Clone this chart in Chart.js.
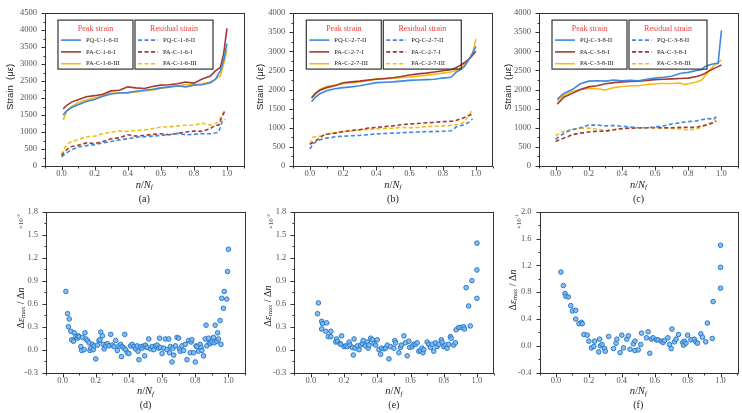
<!DOCTYPE html>
<html>
<head>
<meta charset="utf-8">
<script src="https://cdn.jsdelivr.net/npm/chart.js@4.4.1/dist/chart.umd.min.js"></script>
<style>
  body { margin: 0; background: #fff; }
  #wrap { position: relative; width: 742px; height: 413px; }
  #wrap canvas { position: absolute; left: 0; top: 0; }
</style>
</head>
<body>
<div id="wrap">
  <canvas id="ca" width="742" height="413"></canvas>
  <canvas id="cb" width="742" height="413"></canvas>
  <canvas id="cc" width="742" height="413"></canvas>
  <canvas id="cd" width="742" height="413"></canvas>
  <canvas id="ce" width="742" height="413"></canvas>
  <canvas id="cf" width="742" height="413"></canvas>
</div>
<script>
// tick labels
const xTicks = [0, 0.2, 0.4, 0.6, 0.8, 1.0];
const strainTicksA = [0, 500, 1000, 1500, 2000, 2500, 3000, 3500, 4000, 4500];
const strainTicksBC = [0, 500, 1000, 1500, 2000, 2500, 3000, 3500, 4000];
const rateTicksDE = [-0.3, 0, 0.3, 0.6, 0.9, 1.2, 1.5, 1.8];
const rateTicksF = [-0.4, 0, 0.4, 0.8, 1.2, 1.6, 2.0];

// (a) specimen group 1-6
const namesA = ['PQ-C-1-6-II', 'PA-C-1-6-I', 'PA-C-1-6-III'];
const peakXA = [0.01,0.03,0.06,0.1,0.15,0.2,0.25,0.3,0.35,0.4,0.45,0.5,0.55,0.6,0.65,0.7,0.75,0.8,0.85,0.9,0.93,0.96,0.98,1.0];
const peakPQA = [1500,1620,1720,1800,1900,1960,2050,2120,2150,2160,2200,2230,2260,2300,2330,2360,2330,2380,2390,2450,2550,2800,3100,3600];
const peakPA1A = [1680,1780,1880,1950,2040,2070,2110,2210,2230,2330,2300,2280,2340,2380,2390,2420,2470,2440,2560,2650,2800,2900,3300,4050];
const peakPA3A = [1350,1600,1750,1860,1940,2000,2080,2140,2150,2150,2180,2210,2240,2280,2320,2350,2400,2400,2420,2480,2550,2650,3000,3400];
const resXA = [0,0.02,0.05,0.1,0.15,0.2,0.25,0.3,0.35,0.4,0.45,0.5,0.55,0.6,0.65,0.7,0.75,0.8,0.85,0.9,0.93,0.95,0.97,0.99];
const resPQA = [270,350,450,560,600,630,680,720,770,800,850,860,880,900,920,960,920,930,950,950,970,1000,1300,1370];
const resPA1A = [300,430,560,610,680,660,720,800,830,920,880,900,930,950,920,960,1000,1030,1020,1100,1200,1200,1450,1650];
const resPA3A = [330,550,700,780,860,880,950,1000,1030,1020,1050,1060,1100,1150,1150,1180,1200,1200,1260,1210,1250,1300,1500,1650];

// (b) specimen group 2-7
const namesB = ['PQ-C-2-7-II', 'PA-C-2-7-I', 'PA-C-2-7-III'];
const peakXB = [0.01,0.03,0.06,0.1,0.15,0.2,0.25,0.3,0.35,0.4,0.45,0.5,0.55,0.6,0.65,0.7,0.75,0.8,0.85,0.88,0.9,0.93,0.96,0.98,1.0];
const peakPQB = [1680,1790,1890,1970,2020,2050,2070,2100,2140,2180,2190,2200,2220,2240,2250,2260,2270,2300,2320,2450,2500,2600,2800,2950,3130];
const peakPA1B = [1780,1880,1980,2050,2100,2180,2200,2220,2250,2270,2290,2310,2340,2380,2410,2430,2460,2490,2520,2570,2620,2700,2800,2900,3000];
const peakPA3B = [1800,1900,2000,2080,2120,2150,2170,2200,2230,2280,2280,2300,2310,2330,2350,2370,2400,2430,2460,2500,2550,2650,2800,2950,3320];
const resXB = [0,0.02,0.05,0.08,0.1,0.15,0.2,0.25,0.3,0.35,0.4,0.45,0.5,0.55,0.6,0.65,0.7,0.75,0.8,0.85,0.88,0.9,0.93,0.96,0.98];
const resPQB = [440,580,670,710,730,760,780,790,800,820,840,850,860,870,880,890,900,900,910,920,1020,1050,1080,1150,1230];
const resPA1B = [570,620,700,800,830,860,900,930,950,990,1010,1030,1050,1080,1100,1110,1130,1140,1160,1170,1190,1220,1270,1330,1360];
const resPA3B = [580,760,770,800,830,870,900,920,940,960,970,980,990,1010,1000,1010,1030,1040,1050,1060,1080,1100,1150,1350,1470];

// (c) specimen group 3-8
const namesC = ['PQ-C-3-8-II', 'PA-C-3-8-I', 'PA-C-3-8-III'];
const peakXC = [0.01,0.05,0.1,0.15,0.2,0.25,0.3,0.35,0.4,0.45,0.5,0.55,0.6,0.65,0.7,0.75,0.78,0.8,0.85,0.88,0.9,0.93,0.96,0.98,1.0];
const peakPQC = [1750,1900,2000,2150,2220,2230,2220,2250,2230,2240,2230,2270,2300,2320,2350,2420,2440,2450,2500,2520,2600,2650,2680,2680,3550];
const peakPA1C = [1620,1800,1900,2000,2070,2100,2150,2180,2200,2210,2220,2240,2260,2270,2280,2290,2295,2300,2340,2380,2420,2500,2560,2600,2640];
const peakPA3C = [1700,1850,1950,2000,2020,2020,1990,2050,2080,2100,2100,2130,2150,2160,2160,2170,2130,2150,2200,2250,2350,2500,2650,2700,2780];
const resXC = [0,0.03,0.07,0.1,0.15,0.2,0.25,0.3,0.35,0.4,0.45,0.5,0.55,0.6,0.65,0.7,0.75,0.8,0.85,0.88,0.92,0.95,0.97];
const resPQC = [700,800,900,950,1000,1070,1070,1050,1060,1040,1020,1000,1000,1020,1050,1100,1130,1160,1180,1210,1240,1230,1290];
const resPA1C = [640,700,760,820,860,890,910,910,950,980,990,1000,1000,1000,1000,1000,1010,1010,1010,1050,1080,1130,1180];
const resPA3C = [790,880,930,960,990,990,960,930,940,970,1000,990,1000,1000,990,980,970,940,970,1020,1100,1150,1330];

// (d)-(f) strain rate points [n/Nf, value]
const rateD = [[0.02,0.76],[0.03,0.47],[0.035,0.30],[0.04,0.40],[0.05,0.24],[0.055,0.13],[0.065,0.11],[0.07,0.22],[0.08,0.17],[0.09,0.15],
  [0.095,0.18],[0.10,0.17],[0.11,0.04],[0.115,-0.01],[0.12,0.16],[0.13,0.00],[0.135,0.22],[0.14,0.14],[0.15,0.12],[0.16,0.09],
  [0.165,-0.01],[0.17,0.02],[0.18,0.07],[0.185,0.00],[0.19,0.05],[0.20,-0.12],[0.21,0.06],[0.22,0.12],[0.225,0.13],[0.23,0.23],
  [0.24,0.18],[0.245,0.07],[0.25,0.01],[0.26,0.05],[0.27,0.08],[0.28,0.05],[0.29,0.20],[0.30,0.06],[0.31,0.04],[0.32,0.12],
  [0.33,-0.01],[0.34,0.05],[0.35,0.07],[0.355,-0.09],[0.36,0.04],[0.37,0.02],[0.375,0.20],[0.38,0.00],[0.39,-0.04],[0.40,-0.05],
  [0.41,0.05],[0.42,0.07],[0.43,0.04],[0.44,0.01],[0.45,0.05],[0.455,-0.02],[0.46,-0.13],[0.47,0.04],[0.48,0.02],[0.49,0.05],
  [0.495,-0.08],[0.50,0.06],[0.51,0.03],[0.52,0.14],[0.53,0.01],[0.54,0.04],[0.55,0.00],[0.56,0.05],[0.57,0.06],[0.58,0.02],
  [0.585,0.15],[0.59,0.03],[0.60,-0.05],[0.61,0.02],[0.62,0.14],[0.63,0.00],[0.64,0.14],[0.645,-0.04],[0.65,0.04],[0.66,-0.16],
  [0.665,0.02],[0.67,-0.07],[0.68,0.05],[0.69,0.16],[0.70,0.15],[0.705,0.01],[0.71,-0.02],[0.72,0.05],[0.73,-0.01],[0.74,0.07],
  [0.75,-0.13],[0.76,0.12],[0.77,-0.04],[0.775,0.10],[0.78,0.13],[0.79,-0.04],[0.80,-0.16],[0.805,0.05],[0.81,0.04],[0.82,-0.02],
  [0.83,0.07],[0.835,0.03],[0.84,-0.01],[0.85,-0.08],[0.86,0.14],[0.865,0.32],[0.87,0.05],[0.88,0.15],[0.885,0.09],[0.89,0.08],
  [0.90,0.10],[0.91,0.16],[0.915,0.09],[0.92,0.32],[0.93,0.11],[0.935,0.22],[0.94,0.14],[0.95,0.38],[0.955,0.07],[0.96,0.67],
  [0.97,0.54],[0.975,0.76],[0.99,0.66],[0.995,1.02],[1.0,1.31]];
const rateE = [[0.04,0.47],[0.045,0.61],[0.065,0.37],[0.065,0.27],[0.07,0.34],[0.09,0.24],[0.095,0.35],[0.105,0.17],[0.12,0.17],[0.12,0.24],
  [0.15,0.10],[0.155,0.14],[0.16,0.11],[0.175,0.08],[0.18,0.07],[0.185,0.18],[0.20,0.04],[0.21,0.05],[0.22,0.04],[0.23,0.10],
  [0.235,0.06],[0.25,0.03],[0.255,-0.07],[0.26,0.14],[0.265,0.02],[0.28,0.05],[0.29,0.00],[0.30,0.06],[0.31,0.08],[0.315,0.12],
  [0.33,0.05],[0.34,0.10],[0.345,0.02],[0.35,0.06],[0.36,0.15],[0.37,0.13],[0.38,0.08],[0.39,0.06],[0.40,0.13],[0.41,0.00],
  [0.42,-0.06],[0.425,0.02],[0.44,0.01],[0.45,0.02],[0.46,0.06],[0.47,-0.12],[0.48,0.04],[0.50,0.02],[0.505,0.12],[0.51,0.09],
  [0.53,-0.04],[0.54,0.03],[0.545,0.06],[0.56,0.18],[0.57,0.09],[0.58,-0.08],[0.59,0.11],[0.595,0.03],[0.61,0.04],[0.62,0.07],
  [0.63,0.07],[0.64,0.09],[0.65,-0.02],[0.66,-0.01],[0.67,0.02],[0.675,-0.04],[0.68,0.00],[0.70,0.10],[0.71,0.07],[0.72,0.03],
  [0.73,0.07],[0.74,-0.02],[0.75,0.09],[0.76,0.04],[0.77,0.07],[0.785,0.13],[0.79,0.10],[0.80,0.04],[0.81,0.06],[0.82,0.02],
  [0.83,0.07],[0.84,0.17],[0.845,0.15],[0.86,0.06],[0.87,0.09],[0.875,0.26],[0.89,0.29],[0.905,0.29],[0.92,0.30],[0.925,0.27],
  [0.935,0.81],[0.95,0.57],[0.96,0.31],[0.97,0.90],[1.0,0.67],[1.0,1.04],[1.0,1.39]];
const rateF = [[0.03,1.10],[0.045,0.90],[0.055,0.78],[0.06,0.74],[0.075,0.73],[0.09,0.60],[0.10,0.52],[0.12,0.53],[0.12,0.40],[0.14,0.33],
  [0.155,0.35],[0.16,0.33],[0.17,0.17],[0.19,0.16],[0.20,0.07],[0.215,-0.03],[0.23,-0.01],[0.235,0.07],[0.26,-0.09],[0.265,0.10],
  [0.27,0.00],[0.28,0.02],[0.295,-0.04],[0.30,-0.08],[0.32,0.14],[0.35,-0.04],[0.365,0.04],[0.37,0.10],[0.39,-0.10],[0.40,0.16],
  [0.41,-0.03],[0.43,0.10],[0.44,0.15],[0.45,-0.05],[0.47,0.03],[0.48,0.07],[0.48,-0.07],[0.50,-0.06],[0.515,0.02],[0.52,0.19],
  [0.55,0.12],[0.56,0.21],[0.57,-0.11],[0.58,0.10],[0.59,0.12],[0.61,0.09],[0.62,0.09],[0.64,0.07],[0.65,0.05],[0.66,0.08],
  [0.68,0.12],[0.69,0.02],[0.70,-0.04],[0.705,0.25],[0.72,0.06],[0.73,0.10],[0.745,0.17],[0.77,0.05],[0.775,0.01],[0.78,0.07],
  [0.79,0.04],[0.80,0.16],[0.82,0.09],[0.84,0.10],[0.85,0.06],[0.86,0.04],[0.88,0.18],[0.89,0.13],[0.91,0.06],[0.92,0.34],
  [0.95,0.11],[0.955,0.66],[1.0,0.86],[1.0,1.17],[1.0,1.50]];

const SERIF = '"Liberation Serif", "Times New Roman", serif';
const SANS = '"Liberation Sans", Arial, sans-serif';
const BLUE = '#3f87e0', BROWN = '#a23a33', GOLD = '#f7bb14';
const AXIS = '#333', TICK = '#555', RED = '#ee3b3b';

function pts(xs, ys) {
  return xs.map((x, i) => ({ x: x, y: ys[i] }));
}

function lineSet(label, xs, ys, color, dashed) {
  return {
    label: label, data: pts(xs, ys), borderColor: color, backgroundColor: color,
    borderWidth: 1.6, borderDash: dashed ? [4, 2.5] : [], pointRadius: 0, tension: 0, fill: false
  };
}

// draw a row of text pieces centred on (cx, cy): [text, font, dy]
function drawParts(ctx, parts, cx, cy) {
  let w = 0;
  parts.forEach(p => { ctx.font = p[1]; w += ctx.measureText(p[0]).width; });
  let x = cx - w / 2;
  ctx.textAlign = 'left';
  ctx.textBaseline = 'middle';
  parts.forEach(p => {
    ctx.font = p[1];
    ctx.fillText(p[0], x, cy + p[2]);
    x += ctx.measureText(p[0]).width;
  });
}

function drawLegend(ctx, a, ds) {
  const top = a.top + 7, h = 49;
  const boxes = [
    { x: a.left + 13, w: 75, title: 'Peak strain', items: ds.slice(0, 3) },
    { x: a.left + 90, w: 78, title: 'Residual strain', items: ds.slice(3) }
  ];
  boxes.forEach(b => {
    ctx.setLineDash([]);
    ctx.strokeStyle = AXIS;
    ctx.lineWidth = 1.2;
    ctx.strokeRect(b.x, top, b.w, h);
    ctx.fillStyle = RED;
    ctx.font = '8px ' + SERIF;
    ctx.textAlign = 'center';
    ctx.textBaseline = 'middle';
    ctx.fillText(b.title, b.x + b.w / 2, top + 9);
    b.items.forEach((d, i) => {
      const y = top + 20 + i * 11.8;
      ctx.strokeStyle = d.borderColor;
      ctx.lineWidth = 1.6;
      ctx.setLineDash(d.borderDash);
      ctx.beginPath();
      ctx.moveTo(b.x + 3, y);
      ctx.lineTo(b.x + 23, y);
      ctx.stroke();
      ctx.setLineDash([]);
      ctx.fillStyle = '#222';
      ctx.font = '6.5px ' + SERIF;
      ctx.textAlign = 'left';
      ctx.fillText(d.label, b.x + 28, y);
    });
  });
}

// frame, minor ticks, axis titles, caption, legend
function makeDeco(cfg) {
  return {
    id: 'deco',
    afterDatasetsDraw(chart) {
      const ctx = chart.ctx, a = chart.chartArea;
      const sx = chart.scales.x, sy = chart.scales.y;
      ctx.save();
      ctx.strokeStyle = AXIS;
      ctx.lineWidth = 1;
      ctx.strokeRect(Math.round(a.left) + 0.5, Math.round(a.top) + 0.5,
        Math.round(a.right - a.left), Math.round(a.bottom - a.top));
      const bottom = Math.round(a.bottom) + 0.5, left = Math.round(a.left) + 0.5;
      ctx.beginPath();
      for (let i = -1; i <= 11; i++) {
        const px = Math.round(sx.getPixelForValue(i / 10)) + 0.5;
        ctx.moveTo(px, bottom);
        ctx.lineTo(px, bottom + (i % 2 === 0 ? 4 : 2));
      }
      const n = Math.round((sy.max - sy.min) / cfg.yMinor);
      for (let i = 0; i <= n; i++) {
        const py = Math.round(sy.getPixelForValue(sy.min + i * cfg.yMinor)) + 0.5;
        ctx.moveTo(left, py);
        ctx.lineTo(left - (i % 2 === 0 ? 4 : 2), py);
      }
      ctx.stroke();

      const cx = (a.left + a.right) / 2;
      ctx.fillStyle = '#222';
      drawParts(ctx, [['n', 'italic 10.5px ' + SERIF, 0], ['/', '10.5px ' + SERIF, 0],
        ['N', 'italic 10.5px ' + SERIF, 0], ['f', 'italic 7px ' + SERIF, 2.5]], cx, a.bottom + 19);
      drawParts(ctx, [[cfg.caption, '10px ' + SERIF, 0]], cx, a.bottom + 33);

      ctx.save();
      ctx.translate(cfg.titleX, cfg.titleY);
      ctx.rotate(-Math.PI / 2);
      if (cfg.kind === 'strain') {
        drawParts(ctx, [['Strain  (\u03bc\u03b5)', '9.5px ' + SANS, 0]], 0, 0);
      } else {
        drawParts(ctx, [['\u0394', '10px ' + SERIF, 0], ['\u03b5', 'italic 10px ' + SERIF, 0],
          ['max', '6.5px ' + SERIF, 2.5], [' / \u0394', '10px ' + SERIF, 0], ['n', 'italic 10px ' + SERIF, 0]], 0, 0);
      }
      ctx.restore();

      if (cfg.expText) {
        ctx.save();
        ctx.translate(cfg.expX, a.top + 10);
        ctx.rotate(-Math.PI / 2);
        ctx.fillStyle = '#444';
        drawParts(ctx, [['\u00d710', '7px ' + SERIF, 0], [cfg.expText, '5px ' + SERIF, -2.5]], 0, 0);
        ctx.restore();
      }

      if (cfg.kind === 'strain') drawLegend(ctx, a, chart.data.datasets);
      ctx.restore();
    }
  };
}

function makeChart(id, type, datasets, area, yTicks, cfg) {
  return new Chart(document.getElementById(id), {
    type: type,
    data: { datasets: datasets },
    options: {
      responsive: false,
      animation: false,
      events: [],
      layout: { padding: { left: area[0] - 40, top: area[1], right: 742 - area[2], bottom: 413 - area[3] - 20 } },
      plugins: { legend: { display: false }, tooltip: { enabled: false } },
      scales: {
        x: {
          type: 'linear', min: -0.1, max: 1.1,
          grid: { display: false, drawTicks: false },
          border: { display: false },
          afterFit: s => { s.height = 20; },
          afterBuildTicks: s => { s.ticks = xTicks.map(v => ({ value: v })); },
          ticks: {
            padding: 3, color: TICK, maxRotation: 0, autoSkip: false,
            font: { family: SERIF, size: 8.5 },
            callback: v => v.toFixed(1)
          }
        },
        y: {
          type: 'linear', min: yTicks[0], max: yTicks[yTicks.length - 1],
          grid: { display: false, drawTicks: false },
          border: { display: false },
          afterFit: s => { s.width = 40; },
          afterBuildTicks: s => { s.ticks = yTicks.map(v => ({ value: v })); },
          ticks: {
            padding: 8, color: TICK, autoSkip: false,
            font: { family: SERIF, size: 8.5 },
            callback: v => cfg.kind === 'strain' ? String(v) : (Math.abs(v) < 1e-9 ? '0.0' : v.toFixed(1))
          }
        }
      }
    },
    plugins: [makeDeco(cfg)]
  });
}

function strainSets(names, px, p1, p2, p3, rx, r1, r2, r3) {
  return [
    lineSet(names[0], px, p1, BLUE, false),
    lineSet(names[1], px, p2, BROWN, false),
    lineSet(names[2], px, p3, GOLD, false),
    lineSet(names[0], rx, r1, BLUE, true),
    lineSet(names[1], rx, r2, BROWN, true),
    lineSet(names[2], rx, r3, GOLD, true)
  ];
}

function rateSet(pairs) {
  return [{
    data: pairs.map(p => ({ x: p[0], y: p[1] })),
    pointRadius: 2.3, pointBorderWidth: 1,
    pointBackgroundColor: 'rgba(120,185,240,0.9)', pointBorderColor: '#2a78cc'
  }];
}

makeChart('ca', 'line', strainSets(namesA, peakXA, peakPQA, peakPA1A, peakPA3A, resXA, resPQA, resPA1A, resPA3A),
  [45, 7, 243.5, 166], strainTicksA, { kind: 'strain', yMinor: 250, titleX: 10, titleY: 87, caption: '(a)' });
makeChart('cb', 'line', strainSets(namesB, peakXB, peakPQB, peakPA1B, peakPA3B, resXB, resPQB, resPA1B, resPA3B),
  [293.3, 7, 492.5, 166], strainTicksBC, { kind: 'strain', yMinor: 250, titleX: 260, titleY: 87, caption: '(b)' });
makeChart('cc', 'line', strainSets(namesC, peakXC, peakPQC, peakPA1C, peakPA3C, resXC, resPQC, resPA1C, resPA3C),
  [539, 7, 738, 166], strainTicksBC, { kind: 'strain', yMinor: 250, titleX: 508, titleY: 87, caption: '(c)' });

makeChart('cd', 'scatter', rateSet(rateD), [46, 211.7, 245, 372.7], rateTicksDE,
  { kind: 'rate', yMinor: 0.15, titleX: 21, titleY: 308, caption: '(d)', expX: 21, expText: '-2' });
makeChart('ce', 'scatter', rateSet(rateE), [294.3, 211.7, 493.5, 372.7], rateTicksDE,
  { kind: 'rate', yMinor: 0.15, titleX: 268, titleY: 306, caption: '(e)', expX: 271, expText: '-2' });
makeChart('cf', 'scatter', rateSet(rateF), [539.5, 211.7, 738.5, 372.7], rateTicksF,
  { kind: 'rate', yMinor: 0.2, titleX: 513, titleY: 290, caption: '(f)', expX: 519, expText: '-1' });
</script>
</body>
</html>
